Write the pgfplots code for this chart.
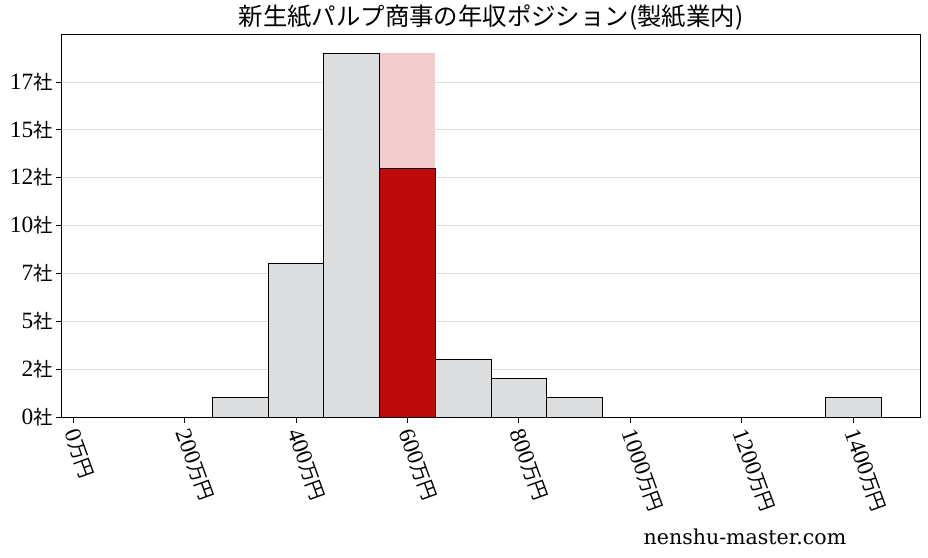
\documentclass[border=0pt]{standalone}
\usepackage{pgfplots}
\pgfplotsset{compat=1.18}
\usepackage{fontspec}
\setmainfont{Liberation Serif}
\newfontfamily\cjk{Noto Sans CJK JP}
\newfontfamily\wmark{DejaVu Serif}

\definecolor{bargray}{RGB}{220,221,223}
\definecolor{barpink}{RGB}{240,204,205}
\definecolor{barred}{RGB}{190,10,10}
\definecolor{gridgray}{RGB}{221,221,221}

% digits in the serif, unit in the CJK font
\newcommand{\sha}[1]{{\fontsize{17.5}{20}\selectfont #1}{\cjk\fontsize{14.5}{18}\selectfont 社}}
\newcommand{\man}[1]{{\fontsize{17.5}{20}\selectfont #1}{\cjk\fontsize{14.5}{18}\selectfont 万円}}

\begin{document}
\begin{tikzpicture}
\begin{axis}[
  scale only axis,
  width=643.5pt,
  height=286.5pt,
  xmin=-20, xmax=1520,
  ymin=0, ymax=19.95,
  axis line style={black, line width=0.75pt},
  tick style={black, line width=0.6pt},
  major tick length=4.5pt,
  tick align=outside,
  xtick pos=bottom, ytick pos=left,
  xtick={0,200,400,600,800,1000,1200,1400},
  xticklabels={\man{0},\man{200},\man{400},\man{600},\man{800},\man{1000},\man{1200},\man{1400}},
  ytick={0,2.5,5,7.5,10,12.5,15,17.5},
  yticklabels={\sha{0},\sha{2},\sha{5},\sha{7},\sha{10},\sha{12},\sha{15},\sha{17}},
  xticklabel style={xshift=-3pt, yshift=-2pt, rotate=-70, anchor=west},
  yticklabel style={xshift=1pt},
  ymajorgrids,
  grid style={gridgray, line width=0.6pt},
  title={\cjk 新生紙パルプ商事の年収ポジション(製紙業内)},
  title style={font=\fontsize{18.3}{22}\selectfont, yshift=-6pt},
]
% pink background for the company's bin
\addplot[ybar, bar width=100, bar shift=0pt, fill=barpink, draw=none]
  coordinates {(600,19)};
% distribution of the industry
\addplot[ybar, bar width=100, bar shift=0pt, fill=bargray, draw=black, line width=0.6pt]
  coordinates {(300,1) (400,8) (500,19) (700,3) (800,2) (900,1) (1400,1)};
% the company's bin
\addplot[ybar, bar width=100, bar shift=0pt, fill=barred, draw=black, line width=0.6pt]
  coordinates {(600,13)};
\end{axis}
\node[font=\wmark\fontsize{15.4}{18}\selectfont] at ([shift={(512.25pt,-90pt)}]current axis.south west) {nenshu-master.com};
\path ([shift={(-46.5pt,-105pt)}]current axis.south west) rectangle ([shift={(6pt,26.25pt)}]current axis.north east);
\end{tikzpicture}
\end{document}
